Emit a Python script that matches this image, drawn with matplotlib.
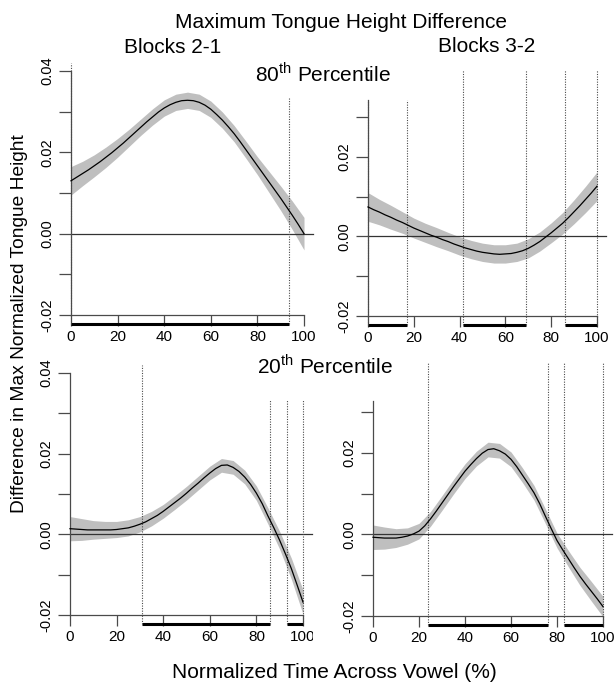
import matplotlib
matplotlib.use("Agg")
import matplotlib.pyplot as plt
import matplotlib.transforms as mtransforms

plt.rcParams['font.family'] = ['Liberation Sans', 'DejaVu Sans']
plt.rcParams['mathtext.fontset'] = 'custom'
plt.rcParams['mathtext.rm'] = 'Liberation Sans'

# normalized time across vowel (%): fine grid for the fitted curves,
# coarse grid for the confidence bands
time_fine = [0, 2.5, 5, 7.5, 10, 12.5, 15, 17.5, 20, 22.5, 25, 27.5, 30, 32.5, 35, 37.5, 40,
             42.5, 45, 47.5, 50, 52.5, 55, 57.5, 60, 62.5, 65, 67.5, 70, 72.5, 75, 77.5, 80,
             82.5, 85, 87.5, 90, 92.5, 95, 97.5, 100]
time_pct = [0, 5, 10, 15, 20, 25, 30, 35, 40, 45, 50,
            55, 60, 65, 70, 75, 80, 85, 90, 95, 100]

# Blocks 2-1, 80th percentile
fit_21_p80 = [0.0130, 0.0139, 0.0148, 0.0157, 0.0167, 0.0177, 0.0188, 0.0199, 0.0211, 0.0223,
              0.0236, 0.0249, 0.0262, 0.0275, 0.0287, 0.0299, 0.0309, 0.0317, 0.0323, 0.0327,
              0.0328, 0.0327, 0.0323, 0.0316, 0.0306, 0.0293, 0.0279, 0.0263, 0.0246, 0.0227,
              0.0207, 0.0187, 0.0167, 0.0147, 0.0127, 0.0107, 0.0087, 0.0066, 0.0045, 0.0023, 0.0000]
ci_21_p80 = [0.0035, 0.0030, 0.0027, 0.0025, 0.0023, 0.0021, 0.0020, 0.0020, 0.0020, 0.0020, 0.0020,
             0.0020, 0.0020, 0.0020, 0.0020, 0.0021, 0.0022, 0.0026, 0.0030, 0.0035, 0.0040]
sig_21_p80 = [(0, 93.5)]

# Blocks 3-2, 80th percentile
fit_32_p80 = [0.0074, 0.0067, 0.0061, 0.0054, 0.0048, 0.0041, 0.0035, 0.0028, 0.0021, 0.0015,
              0.0009, 0.0003, -0.0002, -0.0008, -0.0013, -0.0019, -0.0024, -0.0029, -0.0033, -0.0037,
              -0.0040, -0.0042, -0.0044, -0.0045, -0.0044, -0.0043, -0.0040, -0.0036, -0.0030, -0.0022,
              -0.0013, -0.0002, 0.0009, 0.0021, 0.0033, 0.0047, 0.0062, 0.0077, 0.0093, 0.0109, 0.0126]
ci_32_p80 = [0.0036, 0.0032, 0.0030, 0.0027, 0.0025, 0.0024, 0.0024, 0.0023, 0.0023, 0.0023, 0.0023,
             0.0023, 0.0023, 0.0023, 0.0024, 0.0024, 0.0025, 0.0027, 0.0030, 0.0033, 0.0036]
sig_32_p80 = [(0, 17), (41.5, 69), (86, 100)]

# Blocks 2-1, 20th percentile
fit_21_p20 = [0.0014, 0.0013, 0.0012, 0.0011, 0.0011, 0.0011, 0.0011, 0.0011, 0.0012, 0.0014,
              0.0016, 0.0020, 0.0025, 0.0031, 0.0039, 0.0047, 0.0057, 0.0068, 0.0079, 0.0090,
              0.0102, 0.0115, 0.0127, 0.0140, 0.0152, 0.0163, 0.0171, 0.0172, 0.0166, 0.0156,
              0.0142, 0.0124, 0.0102, 0.0076, 0.0045, 0.0016, -0.0015, -0.0049, -0.0085, -0.0126, -0.0168]
ci_21_p20 = [0.0030, 0.0027, 0.0023, 0.0021, 0.0020, 0.0020, 0.0019, 0.0018, 0.0017, 0.0017, 0.0017,
             0.0017, 0.0017, 0.0017, 0.0017, 0.0017, 0.0018, 0.0020, 0.0022, 0.0026, 0.0030]
sig_21_p20 = [(31, 86), (93, 100)]

# Blocks 3-2, 20th percentile
fit_32_p20 = [-0.0007, -0.0008, -0.0009, -0.0009, -0.0009, -0.0007, -0.0004, 0.0001, 0.0008, 0.0021,
              0.0038, 0.0057, 0.0077, 0.0097, 0.0117, 0.0136, 0.0155, 0.0171, 0.0186, 0.0199,
              0.0208, 0.0210, 0.0205, 0.0197, 0.0184, 0.0166, 0.0145, 0.0124, 0.0102, 0.0075,
              0.0044, 0.0014, -0.0015, -0.0038, -0.0060, -0.0082, -0.0103, -0.0122, -0.0140, -0.0158, -0.0177]
ci_32_p20 = [0.0030, 0.0027, 0.0023, 0.0020, 0.0019, 0.0018, 0.0018, 0.0018, 0.0018, 0.0018, 0.0018,
             0.0018, 0.0018, 0.0018, 0.0018, 0.0018, 0.0018, 0.0020, 0.0022, 0.0024, 0.0025]
sig_32_p20 = [(24, 76), (83, 100)]

x_ticks = [0, 20, 40, 60, 80, 100]
y_ticks_left = [-0.02, -0.01, 0.00, 0.01, 0.02, 0.03, 0.04]
y_labels_left = ['-0.02', '', '0.00', '', '0.02', '', '0.04']
y_ticks_right = [-0.02, -0.01, 0.00, 0.01, 0.02, 0.03]
y_labels_right = ['-0.02', '', '0.00', '', '0.02', '']

W, H = 615, 684
fig = plt.figure(figsize=(W / 100, H / 100), dpi=100)

band_col = '#bfbfbf'
axis_col = '#4a4a4a'

# pixel layout: x of 0 and 100, y of bottom and top tick, axis line top,
# tops of the dotted boundary lines
panels = [
    dict(fit=fit_21_p80, ci=ci_21_p80, sig=sig_21_p80, x0=71, x1=304, yb=315, yt=71,
         ytop=0.04, axtop=0.04, yt_=y_ticks_left, yl=y_labels_left, vtops=[63, 98]),
    dict(fit=fit_32_p80, ci=ci_32_p80, sig=sig_32_p80, x0=368, x1=597, yb=316, yt=117,
         ytop=0.03, axtop=0.0342, yt_=y_ticks_right, yl=y_labels_right,
         vtops=[100, 100, 70, 70, 70, 70]),
    dict(fit=fit_21_p20, ci=ci_21_p20, sig=sig_21_p20, x0=70, x1=303, yb=615, yt=373,
         ytop=0.04, axtop=0.04, yt_=y_ticks_left, yl=y_labels_left, vtops=[365, 400, 400, 400]),
    dict(fit=fit_32_p20, ci=ci_32_p20, sig=sig_32_p20, x0=373, x1=603, yb=616, yt=412,
         ytop=0.03, axtop=0.0327, yt_=y_ticks_right, yl=y_labels_right, vtops=[363, 363, 363, 363]),
]

axes = []
for p in panels:
    h = p['yb'] - p['yt']
    ax = fig.add_axes([p['x0'] / W, 1 - p['yb'] / H, (p['x1'] - p['x0']) / W, h / H])
    ax.set_xlim(0, 100)
    ax.set_ylim(-0.02, p['ytop'])
    ax.patch.set_visible(False)
    ax.spines['top'].set_visible(False)
    ax.spines['right'].set_visible(False)
    ax.spines['left'].set_bounds(-0.02, p['axtop'])
    ax.spines['bottom'].set_bounds(0, 100)
    for s in ['left', 'bottom']:
        ax.spines[s].set_color(axis_col)
        ax.spines[s].set_linewidth(0.9)

    # band centred on the fit, read on the coarse grid
    centre = p['fit'][::2]
    upper = [f + c for f, c in zip(centre, p['ci'])]
    lower = [f - c for f, c in zip(centre, p['ci'])]
    ax.fill_between(time_pct, lower, upper, color=band_col, lw=0, clip_on=False, zorder=1)
    ax.plot(time_fine, p['fit'], color='black', lw=0.9, clip_on=False, zorder=3)
    ax.plot([0, 104], [0, 0], color='#333333', lw=0.9, clip_on=False, zorder=2)

    # significant stretches, drawn below the x axis
    trans = mtransforms.offset_copy(ax.get_xaxis_transform(), fig=fig, y=-9, units='dots')
    bounds = []
    for a, b in p['sig']:
        ax.plot([a, b], [0, 0], transform=trans, color='black', lw=2.2,
                solid_capstyle='butt', clip_on=False)
        bounds += [a, b]
    for xv, top in zip(bounds, p['vtops']):
        ax.axvline(xv, ymin=-9 / h, ymax=(p['yb'] - top) / h, color=axis_col,
                   lw=0.8, ls=(0, (1, 1.3)), clip_on=False, zorder=2)

    ax.set_xticks(x_ticks, [str(t) for t in x_ticks])
    ax.set_yticks(p['yt_'], p['yl'], rotation=90, va='center')
    ax.tick_params(axis='x', length=8, width=0.9, color=axis_col, labelsize=11, pad=3)
    ax.tick_params(axis='y', length=9, width=0.9, color=axis_col, labelsize=10.5, pad=3)
    axes.append(ax)

# the bottom-left "100" is cut off by the neighbouring panel
lab = axes[2].get_xticklabels()[-1]
lab.set_clip_box(mtransforms.TransformedBbox(
    mtransforms.Bbox([[0, 0], [313 / W, 1]]), fig.transFigure))
lab.set_clip_on(True)

def ftext(x, y, s, **kw):
    fig.text(x / W, 1 - y / H, s, va='baseline', **kw)

ftext(341, 28, 'Maximum Tongue Height Difference', ha='center', fontsize=15)
ftext(173, 53, 'Blocks 2-1', ha='center', fontsize=15)
ftext(487, 52, 'Blocks 3-2', ha='center', fontsize=15)
ftext(255, 81, r'80$^{\mathrm{th}}$ Percentile', ha='left', fontsize=15)
ftext(257, 374, r'20$^{\mathrm{th}}$ Percentile', ha='left', fontsize=15)
ftext(334, 678, 'Normalized Time Across Vowel (%)', ha='center', fontsize=15)
fig.text(20 / W, 1 - 324 / H, 'Difference in Max Normalized Tongue Height',
         rotation=90, ha='center', va='center', fontsize=13.8)

fig.savefig('out.png', dpi=100)
